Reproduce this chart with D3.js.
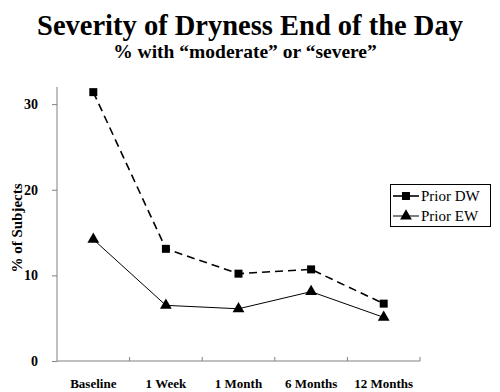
<!DOCTYPE html>
<html><head><meta charset="utf-8">
<script src="https://cdn.jsdelivr.net/npm/d3@7"></script>
<style>body{margin:0;background:#fff}svg{display:block} text{font-family:"Liberation Serif",serif}</style>
</head><body>
<svg id="c" width="500" height="392"></svg>
<script>
const categories = ["Baseline","1 Week","1 Month","6 Months","12 Months"];
const priorDW = [31.4, 13.1, 10.2, 10.7, 6.7];
const priorEW = [14.2, 6.5, 6.1, 8.1, 5.1];
const yTicks = [0, 10, 20, 30];
const seriesNames = ["Prior DW", "Prior EW"];

const svg = d3.select("#c");
const font = "Liberation Serif";
const x0 = 57, x1 = 420, yTop = 87, yBot = 361;
const x = d3.scaleBand().domain(categories).range([x0, x1]);
const y = d3.scaleLinear().domain([0, 32]).range([yBot, yTop]);

svg.append("text").attr("x", 250).attr("y", 35).attr("text-anchor","middle")
  .attr("font-family", font).attr("font-weight","bold").attr("font-size", 28.5)
  .text("Severity of Dryness End of the Day");
svg.append("text").attr("x", 245).attr("y", 58).attr("text-anchor","middle")
  .attr("font-family", font).attr("font-weight","bold").attr("font-size", 19.5)
  .text("% with \u201cmoderate\u201d or \u201csevere\u201d");

// y axis
const ya = svg.append("g").attr("transform", `translate(${x0},0)`)
  .call(d3.axisLeft(y).tickValues(yTicks).tickSize(5).tickPadding(14).tickFormat(d3.format("d")));
ya.select(".domain").attr("stroke","#808080").attr("d", `M0,${yTop}V${yBot}`);
ya.selectAll(".tick line").attr("stroke","#808080");
ya.selectAll("text").attr("font-family", font).attr("font-weight","bold").attr("font-size", 14).attr("fill","#000");

// x axis
const xa = svg.append("g").attr("transform", `translate(0,${yBot})`)
  .call(d3.axisBottom(x).tickSize(0).tickPadding(18));
xa.select(".domain").attr("stroke","#808080").attr("d", `M${x0},0H${x1}`);
xa.selectAll("text").attr("font-family", font).attr("font-weight","bold").attr("font-size", 13).attr("fill","#000");
xa.selectAll(".bt").data(categories).enter().append("line")
  .attr("x1", d => x(d) + x.bandwidth()).attr("x2", d => x(d) + x.bandwidth())
  .attr("y1", 0).attr("y2", -4).attr("stroke","#808080");

svg.append("text").attr("transform", `translate(22,228) rotate(-90)`).attr("text-anchor","middle")
  .attr("font-family", font).attr("font-weight","bold").attr("font-size", 15)
  .text("% of Subjects");

const cx = d => x(d) + x.bandwidth()/2;
const line = vals => d3.line().x((d,i) => cx(categories[i])).y(d => y(d))(vals);

svg.append("path").attr("d", line(priorDW)).attr("fill","none").attr("stroke","#000")
  .attr("stroke-width",1.6).attr("stroke-dasharray","8,5");
svg.append("path").attr("d", line(priorEW)).attr("fill","none").attr("stroke","#000").attr("stroke-width",1);

const sq = d3.symbol().type(d3.symbolSquare).size(64);
const tri = d3.symbol().type(d3.symbolTriangle).size(60);
svg.selectAll(".dw").data(priorDW).enter().append("path")
  .attr("d", sq).attr("transform", (d,i) => `translate(${cx(categories[i])},${y(d)})`).attr("fill","#000");
svg.selectAll(".ew").data(priorEW).enter().append("path")
  .attr("d", tri).attr("transform", (d,i) => `translate(${cx(categories[i])},${y(d)})`).attr("fill","#000");

const lg = svg.append("g");
lg.append("rect").attr("x",390.5).attr("y",184.5).attr("width",100).attr("height",42)
  .attr("fill","#fff").attr("stroke","#000").attr("stroke-width",1);
[0,1].forEach(i => {
  const yy = 196 + i*20;
  lg.append("line").attr("x1",393).attr("x2",419).attr("y1",yy).attr("y2",yy).attr("stroke","#000").attr("stroke-width", i===0?1.6:1);
  lg.append("path").attr("d", i===0 ? sq : tri).attr("transform", `translate(406,${yy})`).attr("fill","#000");
  lg.append("text").attr("x",421).attr("y",yy+5).attr("font-family", font).attr("font-size", 15)
    .text(seriesNames[i]);
});
</script>
</body></html>
